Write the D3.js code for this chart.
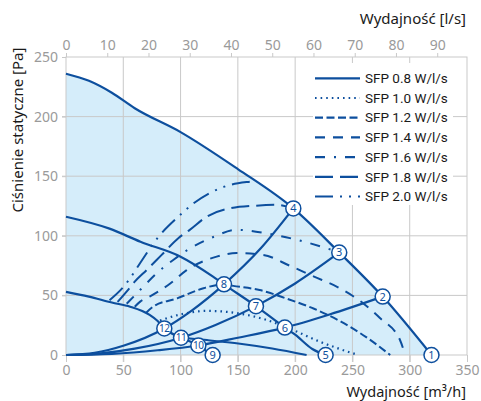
<!DOCTYPE html>
<html>
<head>
<meta charset="utf-8">
<script src="https://cdn.jsdelivr.net/npm/d3@7"></script>
<style>
body { margin: 0; background: white; }
svg text { font-family: "Noto Sans", sans-serif; }
</style>
</head>
<body>
<svg id="chart" width="481" height="401"></svg>
<script>
// axis ticks
let xTicks = [0, 50, 100, 150, 200, 250, 300, 350]
let yTicks = [0, 50, 100, 150, 200, 250]
let lsTicks = [0, 10, 20, 30, 40, 50, 60, 70, 80, 90]

// fan curves [m3/h, Pa]
let highSpeed = [[0,236],[20,230],[40,220],[60,207],[100,187],[150,156],[198.4,123],[238.5,86],[276.4,49],[319,0]]
let midSpeed = [[0,116],[38,106],[65,95],[100,82.5],[128,66],[137.9,59.3],[165.8,41],[191,23],[200,17],[215,5],[226.6,0]]
let lowSpeed = [[0,53],[20,49],[40,44],[56,40.5],[73,33.6],[80,28.5],[85.8,22.3],[100.4,14.5],[115.5,8],[127,0]]

// system curves
let sysA = [[0,0],[25,1.9],[50,7.8],[85.8,22.3],[110,37.5],[137.9,59.3],[170,89.5],[198.4,123]]
let sysB = [[0,0],[30,1.3],[60,5.3],[100.4,14.5],[130,25],[165.8,41],[200,60],[238.5,86]]
let sysC = [[0,0],[40,1],[80,4],[115.5,8],[150,14.5],[191,23],[230,34],[276.4,49]]

// SFP iso lines
let sfp08 = [[100.4,14.5],[123,12.5],[152,9.5],[180,5.5],[210,0]]
let sfp10 = [[82,29],[100,34],[123,37],[150,35],[175,29.4],[198,21],[222,11],[255,0]]
let sfp12 = [[70,35.5],[76,40.5],[97,47.5],[120,56],[137.9,59.3],[146,58],[169,54.5],[192,47.5],[216,39],[240,28],[262,15],[283,0]]
let sfp14 = [[60,40.5],[65,45],[73,49],[91,60],[105,71],[131.5,82.5],[149,85.5],[172,84],[195,75],[216,66],[239,56],[259,43.6],[274,31],[291.5,12.6],[296,0]]
let sfp16 = [[53,43],[59,49],[64.6,54.5],[82,71],[93.6,79.7],[111,91],[128.6,99],[149,105],[175,102],[200,97],[226,90],[236,87]]
let sfp18 = [[45,44.5],[54,54.5],[60,61.5],[70.4,71.3],[83.5,84],[98,98],[108,105],[122.8,116],[143,123],[166,125.3],[184,126],[198.4,123]]
let sfp20 = [[38,46],[50,57],[55.9,64.3],[64.6,77],[80.6,99],[98,116],[111,127],[125.7,136],[143,142.6],[160.6,145.4],[166,146]]

let sfpLabels = ['SFP 0.8 W/l/s','SFP 1.0 W/l/s','SFP 1.2 W/l/s','SFP 1.4 W/l/s','SFP 1.6 W/l/s','SFP 1.8 W/l/s','SFP 2.0 W/l/s']
let sfpDash = [null, '1.6,4', '8,3.5', '10,8', '10,9,2,9', '18,7', '18,7,2,7,2,7']

// operating points
let markerNum = [1,2,3,4,5,6,7,8,9,10,11,12]
let markerX = [319,276.4,238.5,198.4,226.6,191,165.8,137.9,128,115.5,100.4,85.8]
let markerY = [0,49,86,123,0,23,41,59.3,0,8,14.5,22.3]

let blue = '#0d4f9e'
let grey = '#c9c9c9'
let labelGrey = '#9a9a9a'

let svg = d3.select('#chart')

let x = d3.scaleLinear().domain([0,350]).range([66,467])
let y = d3.scaleLinear().domain([0,250]).range([355,57])
let xls = d3.scaleLinear().domain([0,350/3.6]).range([66,467])

let line = d3.line()
.x(d => x(d[0]))
.y(d => y(d[1]))
.curve(d3.curveMonotoneX)

// working area
svg.append('path')
.datum(highSpeed)
.attr('fill', '#d5edfa')
.attr('d', d3.area().x(d => x(d[0])).y0(y(0)).y1(d => y(d[1])).curve(d3.curveMonotoneX))

// grid
svg.append('g')
.selectAll('line')
.data(xTicks.slice(1, -1))
.join('line')
.attr('x1', d => x(d)).attr('x2', d => x(d))
.attr('y1', y(250)).attr('y2', y(0) + 7)
.attr('stroke', grey)

svg.append('g')
.selectAll('line')
.data(yTicks.slice(1, -1))
.join('line')
.attr('x1', x(0) - 4).attr('x2', x(350))
.attr('y1', d => y(d)).attr('y2', d => y(d))
.attr('stroke', grey)

svg.append('rect')
.attr('x', x(0)).attr('y', y(250))
.attr('width', x(350) - x(0)).attr('height', y(0) - y(250))
.attr('fill', 'none')
.attr('stroke', grey)

// axes
let axB = svg.append('g')
.attr('transform', `translate(0,${y(0)})`)
.call(d3.axisBottom(x).tickValues(xTicks).tickSize(7).tickPadding(3))

let axL = svg.append('g')
.attr('transform', `translate(${x(0)},0)`)
.call(d3.axisLeft(y).tickValues(yTicks).tickSize(4).tickPadding(4))

let axT = svg.append('g')
.attr('transform', `translate(0,${y(250)})`)
.call(d3.axisTop(xls).tickValues(lsTicks).tickSize(4).tickPadding(3))

;[axB, axL, axT].forEach(a => {
  a.select('.domain').remove()
  a.selectAll('line').attr('stroke', grey)
  a.selectAll('text')
  .attr('fill', labelGrey)
  .style('font-size', '14px')
  .style('font-family', '"Noto Sans", sans-serif')
})

// axis titles
svg.append('text')
.attr('x', 466).attr('y', 397)
.attr('text-anchor', 'end')
.attr('fill', '#1a1a1a')
.style('font-size', '14.5px')
.text('Wydajność [m³/h]')

svg.append('text')
.attr('x', 466).attr('y', 24)
.attr('text-anchor', 'end')
.attr('fill', '#1a1a1a')
.style('font-size', '15px')
.text('Wydajność [l/s]')

svg.append('text')
.attr('transform', 'translate(23,130) rotate(-90)')
.attr('text-anchor', 'middle')
.attr('fill', '#1a1a1a')
.style('font-size', '15px')
.text('Ciśnienie statyczne [Pa]')

// curves
let solid = [highSpeed, midSpeed, lowSpeed, sysA, sysB, sysC]

svg.append('g')
.selectAll('path')
.data(solid)
.join('path')
.attr('d', line)
.attr('fill', 'none')
.attr('stroke', blue)
.attr('stroke-width', 2.2)

let sfpLines = [sfp08, sfp10, sfp12, sfp14, sfp16, sfp18, sfp20]

svg.append('g')
.selectAll('path')
.data(sfpLines)
.join('path')
.attr('d', line)
.attr('fill', 'none')
.attr('stroke', blue)
.attr('stroke-width', (d, i) => i == 1 ? 2.2 : 2)
.attr('stroke-dasharray', (d, i) => sfpDash[i])

// markers
let mk = svg.append('g')
.selectAll('g')
.data(markerNum)
.join('g')
.attr('transform', (d, i) => `translate(${x(markerX[i])},${y(markerY[i])})`)

mk.append('circle')
.attr('r', 7.5)
.attr('fill', 'white')
.attr('stroke', blue)
.attr('stroke-width', 1.5)

mk.append('text')
.attr('text-anchor', 'middle')
.attr('dy', '0.36em')
.attr('fill', blue)
.style('font-size', d => d > 9 ? '10px' : '11px')
.style('letter-spacing', d => d > 9 ? '-0.5px' : '0px')
.text(d => d)

// legend
svg.append('rect')
.attr('x', 313).attr('y', 63)
.attr('width', 140).attr('height', 142)
.attr('fill', 'white')

let lg = svg.append('g')
.selectAll('g')
.data(sfpLabels)
.join('g')
.attr('transform', (d, i) => `translate(315,${78.3 + i * 19.7})`)

lg.append('line')
.attr('x1', 0).attr('x2', 45)
.attr('stroke', blue)
.attr('stroke-width', 2.2)
.attr('stroke-dasharray', (d, i) => sfpDash[i])

lg.append('text')
.attr('x', 50)
.attr('dy', '0.35em')
.attr('fill', '#1a1a1a')
.style('font-family', 'Roboto, sans-serif')
.style('font-size', '13.5px')
.text(d => d)
</script>
</body>
</html>
